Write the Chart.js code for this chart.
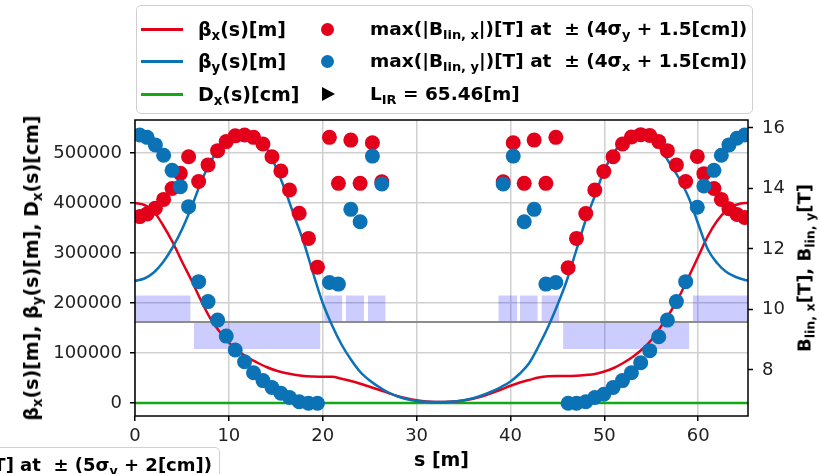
<!DOCTYPE html>
<html>
<head>
<meta charset="utf-8">
<script src="https://cdn.jsdelivr.net/npm/chart.js@4.4.0/dist/chart.umd.min.js"></script>
<style>
html,body{margin:0;padding:0;background:#fff;overflow:hidden;}
#wrap{position:relative;width:821px;height:474px;overflow:hidden;font-family:"DejaVu Sans",sans-serif;color:#000;}
#c{position:absolute;left:0;top:0;}
.t{position:absolute;white-space:nowrap;font-weight:bold;font-size:18.5px;line-height:22px;color:#000;}
.s{font-size:70%;position:relative;top:0.28em;}
.sw{position:absolute;height:3px;width:42px;}
.dot{position:absolute;width:13px;height:13px;border-radius:50%;}
.tri{position:absolute;width:0;height:0;border-top:7px solid transparent;border-bottom:7px solid transparent;border-left:13px solid #000;}
.box{position:absolute;border:1px solid #d0d0d0;border-radius:5px;background:rgba(255,255,255,0.85);}
.rot{position:absolute;white-space:nowrap;font-weight:bold;transform:translate(-50%,-50%) rotate(-90deg);}
</style>
</head>
<body>
<div id="wrap">
<canvas id="c" width="821" height="474"></canvas>

<div class="box" style="left:136px;top:5px;width:615px;height:107px;"></div>
<div class="sw" style="left:141px;top:28px;background:#e3001b;"></div>
<div class="t" style="left:198px;top:18px;font-size:19px;">β<span class="s">x</span>(s)[m]</div>
<div class="dot" style="left:321px;top:23px;background:#e3001b;"></div>
<div class="t" style="left:370px;top:18px;">max(|B<span class="s">lin, x</span>|)[T] at &nbsp;± (4σ<span class="s">y</span> + 1.5[cm])</div>

<div class="sw" style="left:141px;top:60px;background:#0a72b5;"></div>
<div class="t" style="left:198px;top:50px;font-size:19px;">β<span class="s">y</span>(s)[m]</div>
<div class="dot" style="left:321px;top:55px;background:#0a72b5;"></div>
<div class="t" style="left:370px;top:50px;">max(|B<span class="s">lin, y</span>|)[T] at &nbsp;± (4σ<span class="s">x</span> + 1.5[cm])</div>

<div class="sw" style="left:141px;top:93px;background:#14a814;"></div>
<div class="t" style="left:198px;top:83px;font-size:19px;">D<span class="s">x</span>(s)[cm]</div>
<div class="tri" style="left:322px;top:87px;"></div>
<div class="t" style="left:370px;top:83px;">L<span class="s">IR</span> = 65.46[m]</div>

<div class="rot" style="left:31px;top:268px;font-size:19px;">β<span class="s">x</span>(s)[m], β<span class="s">y</span>(s)[m], D<span class="s">x</span>(s)[cm]</div>
<div class="rot" style="left:804px;top:268px;font-size:18px;">B<span class="s">lin, x</span>[T], B<span class="s">lin, y</span>[T]</div>

<div class="box" style="right:601px;top:447px;height:40px;padding:0 7px 0 30px;"><div class="t" style="position:relative;top:6px;font-size:18px;">[T] at &nbsp;± (5σ<span class="s">y</span> + 2[cm])</div></div>
</div>

<script>
// ---- data ----
const sOptics = [0,1,2,3,4,5,6,7,8,9,10,11,12,13,14,15,16,17,18,19,20,21,22,23,24,25,26,27,28,29,30,31,32,33,34,35,36,37,38,39,40,41,42,43,44,45,46,47,48,49,50,51,52,53,54,55,56,57,58,59,60,61,62,63,64,65,65.3];
const betaX = [400000,396000,383000,355000,322000,283000,246000,206000,170000,143000,121000,104000,91000,81000,72000,65000,60000,56500,54000,53000,52500,52500,48500,44000,38500,32500,26500,20000,13500,9000,5500,3000,2000,2000,2800,4800,8500,13500,20000,27000,34500,41000,46000,51000,53500,54000,54000,54500,56000,58000,63000,70000,80000,92000,107000,126000,152000,181000,214000,253000,293000,333000,364000,385000,396000,400000,400000];
const betaY = [244000,249000,261000,282000,311000,347000,391000,440000,481000,509000,527000,536000,536000,527000,510000,472000,425000,372000,320000,258000,200000,155000,117000,87000,62000,45000,32000,21000,13000,7500,4000,2500,2000,2000,3000,5500,9500,15500,23000,32000,43000,59000,80000,114000,152000,196000,245000,305000,365000,415000,466000,500000,524000,536000,537000,530000,508000,478000,448000,410000,358000,308000,280000,262000,252000,246000,245000];
const sDisp = [0, 65.3];
const dispX = [0, 0];

const sMag = [0.50,1.29,2.17,3.05,3.95,4.83,5.71,6.78,7.78,8.80,9.72,10.68,11.67,12.63,13.63,14.59,15.54,16.46,17.49,18.48,19.44,
  20.71,21.67,22.99,23.98,25.29,26.29,
  39.22,40.29,41.46,42.52,43.77,44.83,
  46.14,47.03,48.02,48.98,49.94,50.93,51.93,52.88,53.87,54.83,55.79,56.71,57.67,58.66,59.90,60.60,61.67,62.46,63.27,64.12,64.94];
const bLinX = [13.07,13.16,13.35,13.64,14.00,14.50,15.05,14.23,14.78,15.25,15.55,15.74,15.77,15.69,15.47,15.05,14.58,13.95,13.18,12.35,11.40,
  15.69,14.17,15.60,14.17,15.51,14.22,
  14.22,15.51,14.17,15.60,14.17,15.69,
  11.38,12.35,13.17,13.95,14.56,15.05,15.47,15.70,15.78,15.75,15.55,15.25,14.78,14.23,15.06,14.49,14.00,13.64,13.33,13.14,13.04];
const bLinY = [15.77,15.69,15.44,15.10,14.60,14.06,13.40,10.92,10.26,9.65,9.12,8.66,8.27,7.91,7.65,7.42,7.23,7.09,6.95,6.90,6.90,
  10.89,10.84,13.31,12.90,15.07,14.15,
  14.15,15.07,12.90,13.31,10.84,10.89,
  6.90,6.90,6.95,7.09,7.20,7.42,7.65,7.91,8.24,8.64,9.10,9.65,10.26,10.92,13.38,14.08,14.60,15.10,15.44,15.66,15.77];

const magStart = [0, 6.28, 20.15, 22.45, 24.80, 38.70, 41.00, 43.30, 45.60, 59.40];
const magEnd   = [5.93, 19.76, 22.10, 24.40, 26.70, 40.70, 42.90, 45.20, 59.05, 65.30];
const magLow   = [162000,108000,162000,162000,162000,162000,162000,162000,108000,162000];
const magHigh  = [215000,162000,215000,215000,215000,215000,215000,215000,162000,215000];
const refLevel = 162000;

const xTicks = [0,10,20,30,40,50,60];
const leftTicks = [0,100000,200000,300000,400000,500000];
const rightTicks = [8,10,12,14,16];

// ---- chart ----
const RED = '#e3001b', BLUE = '#0a72b5', GREEN = '#14a814';
const pts = (xs, ys) => xs.map((x, i) => ({x: x, y: ys[i]}));

const datasets = [
  {type:'scatter', data: pts(sMag, bLinY), yAxisID:'y2', backgroundColor: BLUE, borderWidth:0, pointRadius:7.5, pointHoverRadius:7.5, order:0, clip:0},
  {type:'scatter', data: pts(sMag, bLinX), yAxisID:'y2', backgroundColor: RED, borderWidth:0, pointRadius:7.5, pointHoverRadius:7.5, order:1, clip:0},
  {type:'line', data: pts(sOptics, betaY), yAxisID:'y', borderColor: BLUE, borderWidth:2.5, pointRadius:0, cubicInterpolationMode:'monotone', fill:false, order:2, clip:0},
  {type:'line', data: pts(sOptics, betaX), yAxisID:'y', borderColor: RED, borderWidth:2.5, pointRadius:0, cubicInterpolationMode:'monotone', fill:false, order:3, clip:0},
  {type:'line', data: pts(sDisp, dispX), yAxisID:'y', borderColor: GREEN, borderWidth:2.5, pointRadius:0, fill:false, order:4, clip:0},
  {type:'line', data: [{x:0,y:refLevel},{x:65.3,y:refLevel}], yAxisID:'y', borderColor:'#8c8c8c', borderWidth:2, pointRadius:0, fill:false, order:5, clip:0}
];
magStart.forEach((s0, i) => {
  datasets.push({type:'line', data:[{x:s0,y:magHigh[i]},{x:magEnd[i],y:magHigh[i]}], yAxisID:'y',
    borderWidth:0, borderColor:'rgba(0,0,0,0)', pointRadius:0, backgroundColor:'rgba(0,0,255,0.2)',
    fill:{value: magLow[i]}, order:6, clip:0});
});

const tickFont = {family:'DejaVu Sans', size:18};
const frame = {
  id:'frame',
  afterDraw(chart){
    const a = chart.chartArea, ctx = chart.ctx;
    ctx.save(); ctx.strokeStyle = '#000'; ctx.lineWidth = 1.5;
    ctx.strokeRect(a.left, a.top, a.right - a.left, a.bottom - a.top);
    ctx.restore();
  }
};

new Chart(document.getElementById('c'), {
  type:'line',
  data:{datasets},
  plugins:[frame],
  options:{
    responsive:false, animation:false, devicePixelRatio:1,
    layout:{padding:{top:120,left:0,right:0,bottom:0}},
    plugins:{legend:{display:false}, tooltip:{enabled:false}},
    events:[],
    scales:{
      x:{type:'linear', min:0, max:65.3,
        afterBuildTicks: s => { s.ticks = xTicks.map(v => ({value:v})); },
        afterFit: s => { s.height = 58; },
        ticks:{font:tickFont, color:'#222', padding:5, maxRotation:0, autoSkip:false},
        grid:{color:'#d0d0d0', lineWidth:1.5, tickColor:'#000', tickLength:5, tickWidth:1.5},
        border:{display:false},
        title:{display:true, text:'s [m]', color:'#000', font:{family:'DejaVu Sans', size:19, weight:'bold'}, padding:{top:0,bottom:2}}
      },
      y:{type:'linear', position:'left', min:-26000, max:566000,
        afterBuildTicks: s => { s.ticks = leftTicks.map(v => ({value:v})); },
        afterFit: s => { s.width = 135; },
        ticks:{font:tickFont, color:'#222', padding:8, callback: v => String(v)},
        grid:{color:'#d0d0d0', lineWidth:1.5, tickColor:'#000', tickLength:5, tickWidth:1.5},
        border:{display:false}
      },
      y2:{type:'linear', position:'right', min:6.479, max:16.264,
        afterBuildTicks: s => { s.ticks = rightTicks.map(v => ({value:v})); },
        afterFit: s => { s.width = 73; },
        ticks:{font:tickFont, color:'#222', padding:9, callback: v => String(v)},
        grid:{drawOnChartArea:false, tickColor:'#000', tickLength:5, tickWidth:1.5},
        border:{display:false}
      }
    }
  }
});
</script>
</body>
</html>
